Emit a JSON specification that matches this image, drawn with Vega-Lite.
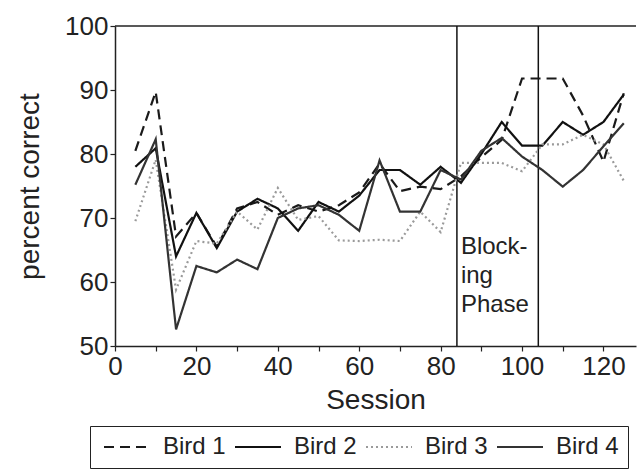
{
  "$schema": "https://vega.github.io/schema/vega-lite/v6.json",
  "autosize": "none",
  "width": 521,
  "height": 320,
  "padding": {"left": 115, "top": 26, "right": 7, "bottom": 127},
  "background": "white",
  "config": {
    "font": "Liberation Sans",
    "view": {"stroke": null},
    "axis": {"grid": false, "domainColor": "#222", "tickColor": "#222", "labelColor": "#222", "titleColor": "#222", "domainWidth": 1.5, "tickWidth": 1.2, "titleFontWeight": "normal", "labelFontSize": 26, "titleFontSize": 28}
  },
  "datasets": {
    "birds": [
      {"session": 5, "bird": "Bird 1", "pct": 80.5}, {"session": 10, "bird": "Bird 1", "pct": 89.7}, {"session": 15, "bird": "Bird 1", "pct": 67.1}, {"session": 20, "bird": "Bird 1", "pct": 70.8}, {"session": 25, "bird": "Bird 1", "pct": 65.5}, {"session": 30, "bird": "Bird 1", "pct": 71.5}, {"session": 35, "bird": "Bird 1", "pct": 72.5}, {"session": 40, "bird": "Bird 1", "pct": 70.5}, {"session": 45, "bird": "Bird 1", "pct": 72.0}, {"session": 50, "bird": "Bird 1", "pct": 71.0}, {"session": 55, "bird": "Bird 1", "pct": 72.0}, {"session": 60, "bird": "Bird 1", "pct": 74.0}, {"session": 65, "bird": "Bird 1", "pct": 78.5}, {"session": 70, "bird": "Bird 1", "pct": 74.2}, {"session": 75, "bird": "Bird 1", "pct": 74.9}, {"session": 80, "bird": "Bird 1", "pct": 74.5}, {"session": 85, "bird": "Bird 1", "pct": 76.5}, {"session": 90, "bird": "Bird 1", "pct": 79.5}, {"session": 95, "bird": "Bird 1", "pct": 82.2}, {"session": 100, "bird": "Bird 1", "pct": 91.8}, {"session": 105, "bird": "Bird 1", "pct": 91.8}, {"session": 110, "bird": "Bird 1", "pct": 91.8}, {"session": 115, "bird": "Bird 1", "pct": 86.0}, {"session": 120, "bird": "Bird 1", "pct": 78.8}, {"session": 125, "bird": "Bird 1", "pct": 89.5},
      {"session": 5, "bird": "Bird 2", "pct": 78.0}, {"session": 10, "bird": "Bird 2", "pct": 80.9}, {"session": 15, "bird": "Bird 2", "pct": 64.0}, {"session": 20, "bird": "Bird 2", "pct": 70.8}, {"session": 25, "bird": "Bird 2", "pct": 65.3}, {"session": 30, "bird": "Bird 2", "pct": 71.0}, {"session": 35, "bird": "Bird 2", "pct": 73.0}, {"session": 40, "bird": "Bird 2", "pct": 71.5}, {"session": 45, "bird": "Bird 2", "pct": 68.0}, {"session": 50, "bird": "Bird 2", "pct": 72.5}, {"session": 55, "bird": "Bird 2", "pct": 71.0}, {"session": 60, "bird": "Bird 2", "pct": 73.5}, {"session": 65, "bird": "Bird 2", "pct": 77.5}, {"session": 70, "bird": "Bird 2", "pct": 77.5}, {"session": 75, "bird": "Bird 2", "pct": 75.2}, {"session": 80, "bird": "Bird 2", "pct": 78.0}, {"session": 85, "bird": "Bird 2", "pct": 75.5}, {"session": 90, "bird": "Bird 2", "pct": 80.0}, {"session": 95, "bird": "Bird 2", "pct": 85.0}, {"session": 100, "bird": "Bird 2", "pct": 81.3}, {"session": 105, "bird": "Bird 2", "pct": 81.3}, {"session": 110, "bird": "Bird 2", "pct": 85.0}, {"session": 115, "bird": "Bird 2", "pct": 83.0}, {"session": 120, "bird": "Bird 2", "pct": 85.0}, {"session": 125, "bird": "Bird 2", "pct": 89.3},
      {"session": 5, "bird": "Bird 3", "pct": 69.5}, {"session": 10, "bird": "Bird 3", "pct": 79.1}, {"session": 15, "bird": "Bird 3", "pct": 58.8}, {"session": 20, "bird": "Bird 3", "pct": 66.4}, {"session": 25, "bird": "Bird 3", "pct": 66.0}, {"session": 30, "bird": "Bird 3", "pct": 71.0}, {"session": 35, "bird": "Bird 3", "pct": 68.2}, {"session": 40, "bird": "Bird 3", "pct": 74.7}, {"session": 45, "bird": "Bird 3", "pct": 69.7}, {"session": 50, "bird": "Bird 3", "pct": 70.3}, {"session": 55, "bird": "Bird 3", "pct": 66.5}, {"session": 60, "bird": "Bird 3", "pct": 66.4}, {"session": 65, "bird": "Bird 3", "pct": 66.6}, {"session": 70, "bird": "Bird 3", "pct": 66.4}, {"session": 75, "bird": "Bird 3", "pct": 71.0}, {"session": 80, "bird": "Bird 3", "pct": 67.8}, {"session": 85, "bird": "Bird 3", "pct": 78.6}, {"session": 90, "bird": "Bird 3", "pct": 78.6}, {"session": 95, "bird": "Bird 3", "pct": 78.6}, {"session": 100, "bird": "Bird 3", "pct": 77.3}, {"session": 105, "bird": "Bird 3", "pct": 81.5}, {"session": 110, "bird": "Bird 3", "pct": 81.5}, {"session": 115, "bird": "Bird 3", "pct": 83.0}, {"session": 120, "bird": "Bird 3", "pct": 81.5}, {"session": 125, "bird": "Bird 3", "pct": 75.8},
      {"session": 5, "bird": "Bird 4", "pct": 75.2}, {"session": 10, "bird": "Bird 4", "pct": 82.3}, {"session": 15, "bird": "Bird 4", "pct": 52.6}, {"session": 20, "bird": "Bird 4", "pct": 62.5}, {"session": 25, "bird": "Bird 4", "pct": 61.5}, {"session": 30, "bird": "Bird 4", "pct": 63.5}, {"session": 35, "bird": "Bird 4", "pct": 62.0}, {"session": 40, "bird": "Bird 4", "pct": 70.0}, {"session": 45, "bird": "Bird 4", "pct": 71.5}, {"session": 50, "bird": "Bird 4", "pct": 72.0}, {"session": 55, "bird": "Bird 4", "pct": 70.5}, {"session": 60, "bird": "Bird 4", "pct": 68.0}, {"session": 65, "bird": "Bird 4", "pct": 79.0}, {"session": 70, "bird": "Bird 4", "pct": 71.0}, {"session": 75, "bird": "Bird 4", "pct": 71.0}, {"session": 80, "bird": "Bird 4", "pct": 77.5}, {"session": 85, "bird": "Bird 4", "pct": 76.0}, {"session": 90, "bird": "Bird 4", "pct": 80.5}, {"session": 95, "bird": "Bird 4", "pct": 82.5}, {"session": 100, "bird": "Bird 4", "pct": 79.6}, {"session": 105, "bird": "Bird 4", "pct": 77.5}, {"session": 110, "bird": "Bird 4", "pct": 74.9}, {"session": 115, "bird": "Bird 4", "pct": 77.5}, {"session": 120, "bird": "Bird 4", "pct": 81.2}, {"session": 125, "bird": "Bird 4", "pct": 84.8}
    ],
    "phase": [{"session": 84}, {"session": 104}],
    "frame": [{"pct": 100}],
    "note": [{"session": 84, "pct": 65.5, "label": "Block-\ning\nPhase"}]
  },
  "layer": [
    {
      "data": {"name": "frame"},
      "mark": {"type": "rule", "color": "#222", "strokeWidth": 1.5},
      "encoding": {"y": {"field": "pct", "type": "quantitative", "scale": {"domain": [50, 100]}}}
    },
    {
      "data": {"name": "phase"},
      "mark": {"type": "rule", "color": "#111", "strokeWidth": 1.5},
      "encoding": {"x": {"field": "session", "type": "quantitative", "scale": {"domain": [0, 128]}}}
    },
    {
      "data": {"name": "birds"},
      "mark": {"type": "line"},
      "encoding": {
        "x": {"field": "session", "type": "quantitative", "scale": {"domain": [0, 128], "nice": false},
          "axis": {"title": "Session", "values": [0, 10, 20, 30, 40, 50, 60, 70, 80, 90, 100, 110, 120], "labelExpr": "datum.value % 20 === 0 ? datum.label : ''", "labelOverlap": false, "labelFlush": false, "tickSize": 5, "labelPadding": 2, "titlePadding": 7}},
        "y": {"field": "pct", "type": "quantitative", "scale": {"domain": [50, 100], "nice": false},
          "axis": {"title": "percent correct", "values": [50, 60, 70, 80, 90, 100], "tickSize": 5, "labelPadding": 2, "titlePadding": 20}},
        "color": {"field": "bird", "type": "nominal", "scale": {"domain": ["Bird 1", "Bird 2", "Bird 3", "Bird 4"], "range": ["#1a1a1a", "#111111", "#9a9a9a", "#333333"]},
          "legend": {"title": null, "orient": "none", "legendX": -25, "legendY": 400, "direction": "horizontal", "columns": 4, "symbolType": "M-0.7,0L3.9,0", "symbolSize": 400, "labelFontSize": 24, "labelColor": "#222", "labelOffset": 40, "columnPadding": 4, "padding": 9, "strokeColor": "#222", "fillColor": "white"}},
        "strokeDash": {"field": "bird", "type": "nominal", "scale": {"domain": ["Bird 1", "Bird 2", "Bird 3", "Bird 4"], "range": [[10, 6], [1, 0], [2, 3], [1, 0]]}, "legend": {"title": null}},
        "strokeWidth": {"field": "bird", "type": "nominal", "scale": {"domain": ["Bird 1", "Bird 2", "Bird 3", "Bird 4"], "range": [2.2, 2.2, 1.2, 1.4]}, "legend": {"title": null}}
      }
    },
    {
      "data": {"name": "note"},
      "mark": {"type": "text", "align": "left", "baseline": "middle", "dx": 4, "fontSize": 24, "lineHeight": 29, "lineBreak": "\n", "color": "#222"},
      "encoding": {
        "x": {"field": "session", "type": "quantitative"},
        "y": {"field": "pct", "type": "quantitative"},
        "text": {"field": "label"}
      }
    }
  ]
}
